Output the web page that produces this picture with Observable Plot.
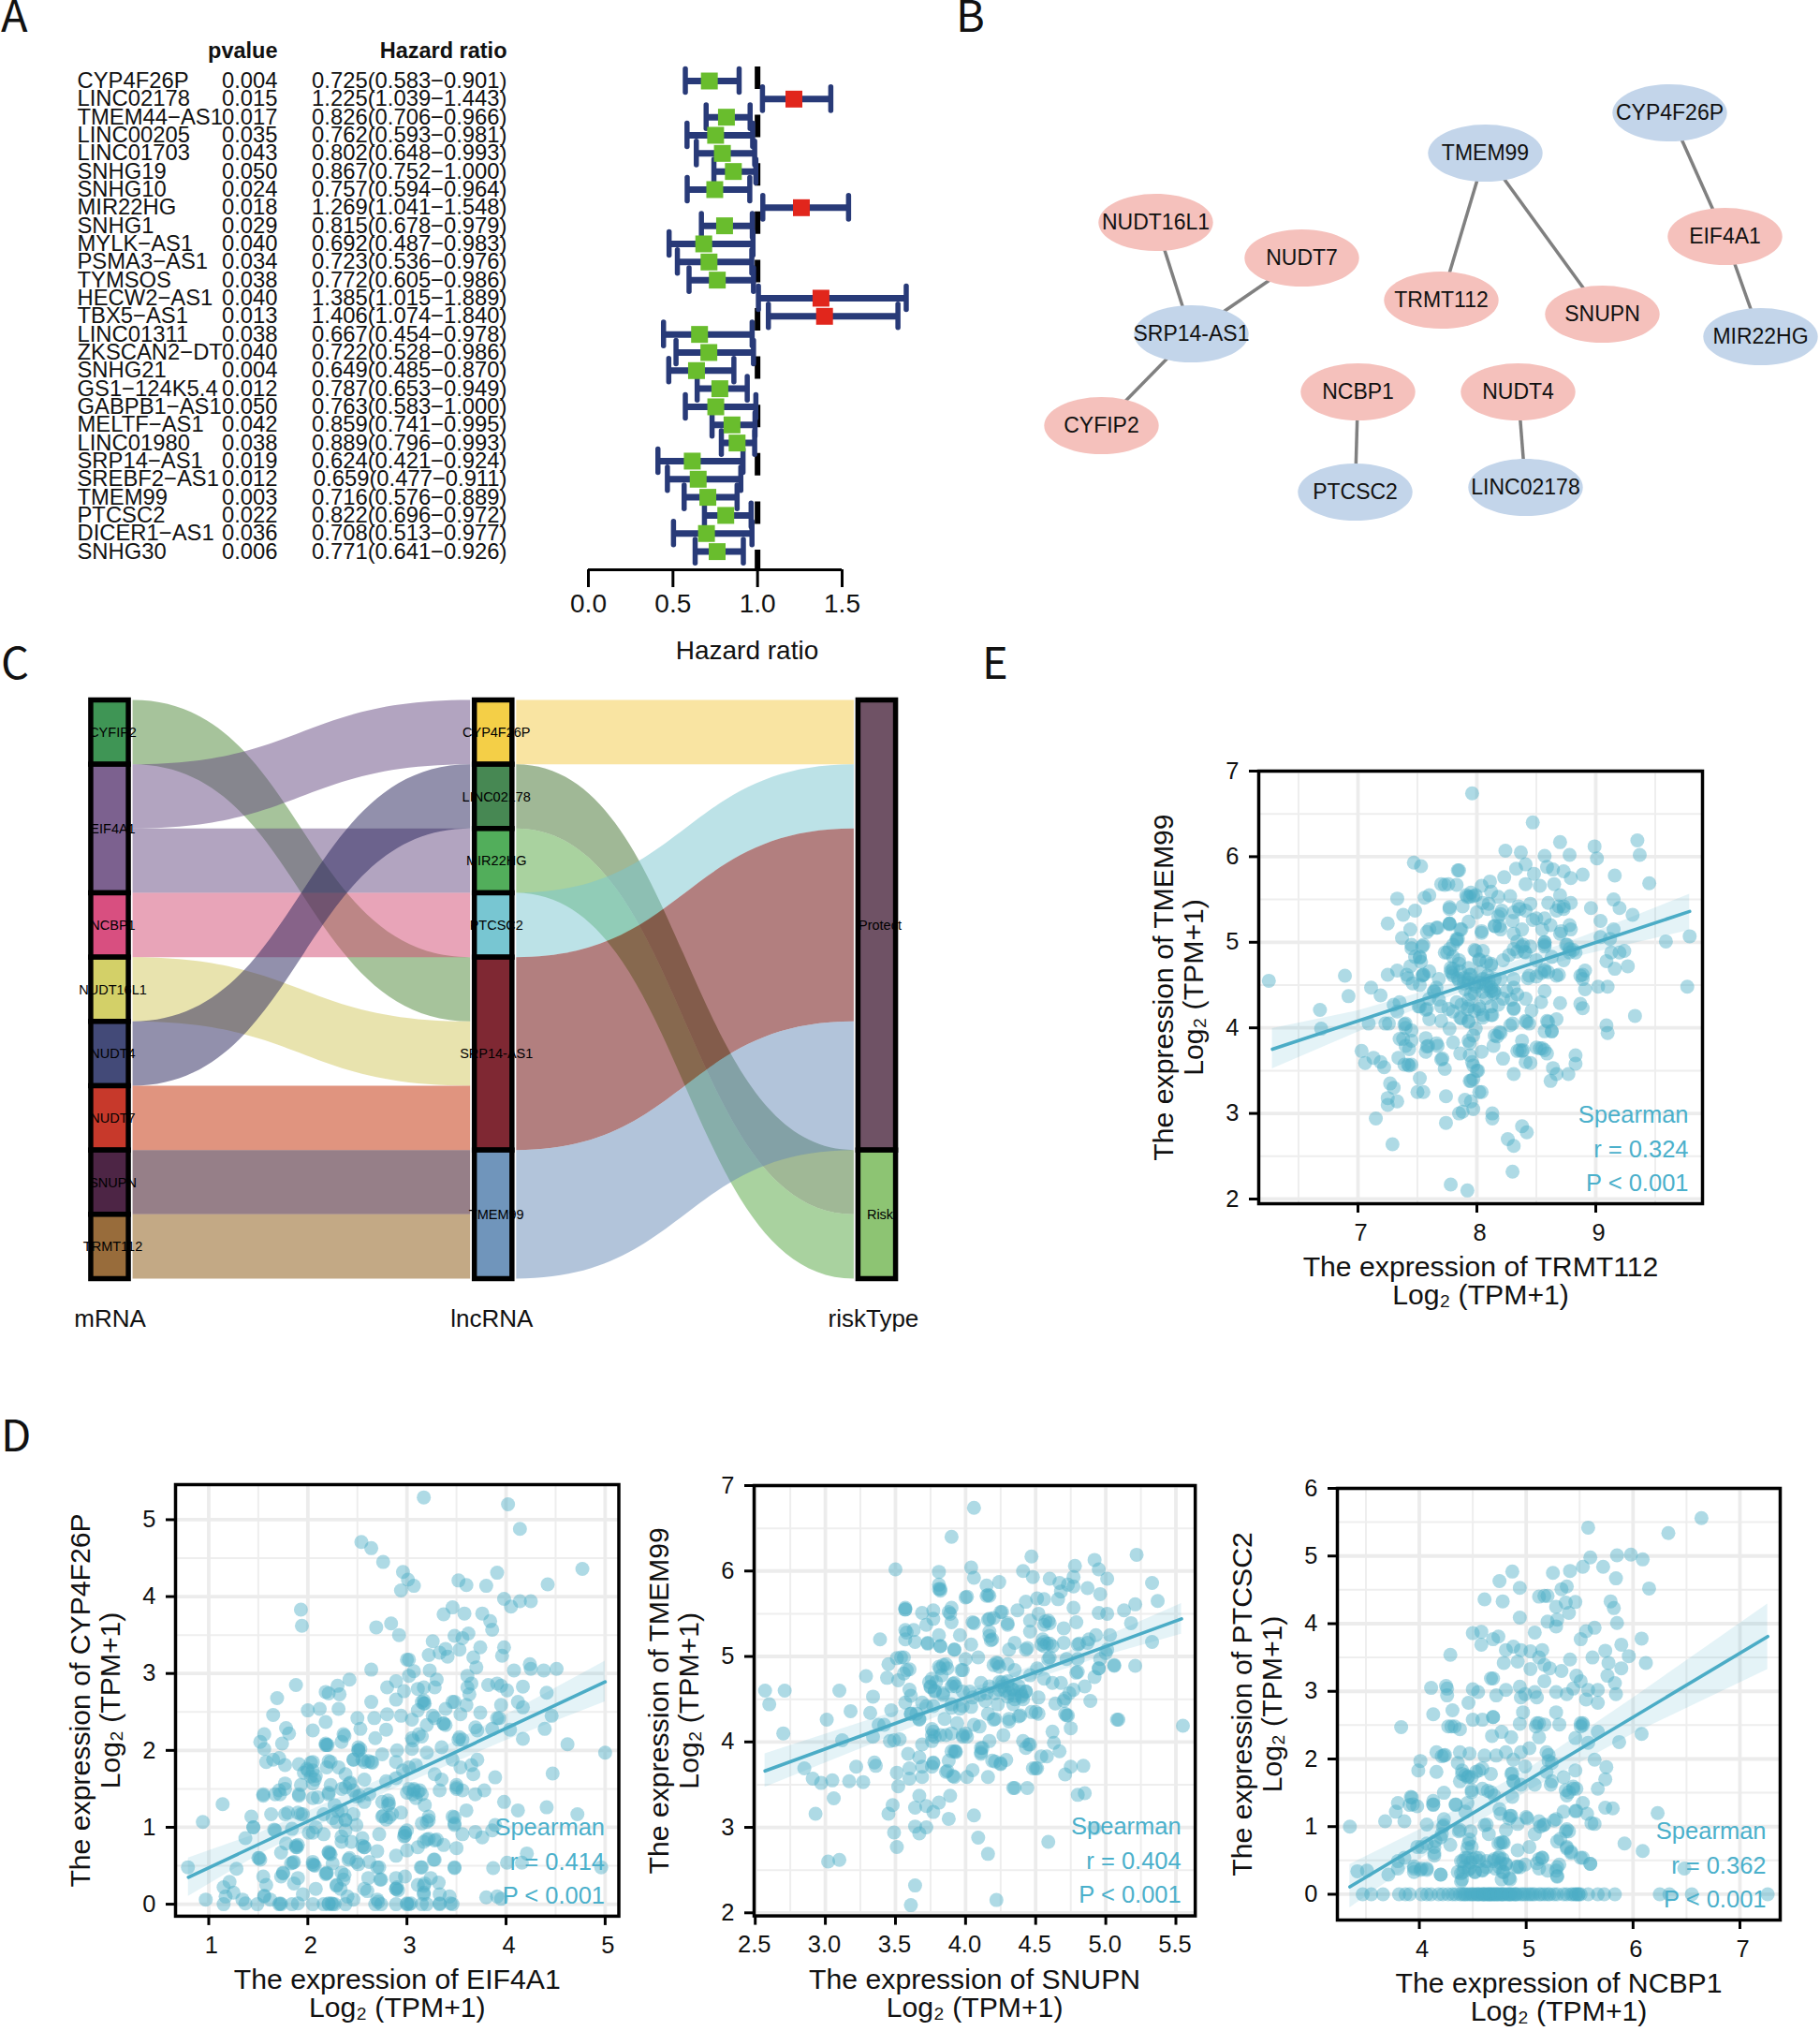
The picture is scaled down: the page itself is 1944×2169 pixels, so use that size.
<!doctype html>
<html><head><meta charset="utf-8">
<script src="https://cdn.jsdelivr.net/npm/d3@7"></script>
<script src="https://cdn.jsdelivr.net/npm/@observablehq/plot@0.6"></script>
<style>
html,body{margin:0;padding:0;background:#fff}
#fig{position:relative;width:1944px;height:2169px;overflow:hidden;background:#fff}
.letter{position:absolute;font-family:"Noto Sans CJK SC","Noto Sans",sans-serif;font-weight:400;font-size:47px;line-height:28px;color:#111}
</style></head><body><div id="fig"></div>
<script>
// ---------- Panel A ----------
const genes=["CYP4F26P","LINC02178","TMEM44-AS1","LINC00205","LINC01703","SNHG19","SNHG10","MIR22HG","SNHG1","MYLK-AS1","PSMA3-AS1","TYMSOS","HECW2-AS1","TBX5-AS1","LINC01311","ZKSCAN2-DT","SNHG21","GS1-124K5.4","GABPB1-AS1","MELTF-AS1","LINC01980","SRP14-AS1","SREBF2-AS1","TMEM99","PTCSC2","DICER1-AS1","SNHG30"];
const pvalues=[.004,.015,.017,.035,.043,.05,.024,.018,.029,.04,.034,.038,.04,.013,.038,.04,.004,.012,.05,.042,.038,.019,.012,.003,.022,.036,.006];
const hazard=[.725,1.225,.826,.762,.802,.867,.757,1.269,.815,.692,.723,.772,1.385,1.406,.667,.722,.649,.787,.763,.859,.889,.624,.659,.716,.822,.708,.771];
const ciLow=[.583,1.039,.706,.593,.648,.752,.594,1.041,.678,.487,.536,.605,1.015,1.074,.454,.528,.485,.653,.583,.741,.796,.421,.477,.576,.696,.513,.641];
const ciHigh=[.901,1.443,.966,.981,.993,1,.964,1.548,.979,.983,.976,.986,1.889,1.84,.978,.986,.87,.949,1,.995,.993,.924,.911,.889,.972,.977,.926];
const forestTicks=[0,.5,1,1.5];
// ---------- Panel B ----------
const nodeNames=["CYP4F26P","TMEM99","NUDT16L1","NUDT7","EIF4A1","TRMT112","SNUPN","MIR22HG","SRP14-AS1","NCBP1","NUDT4","CYFIP2","PTCSC2","LINC02178"];
const nodeKinds=["lnc","lnc","m","m","m","m","m","lnc","lnc","m","m","m","lnc","lnc"];
const nodeX=[783,586,234,390,842,539,711,880,272,450,621,176,447,629];
const nodeY=[120,163,237,275,252,320,335,359,356,418,418,454,525,520];
const edgeList=[["CYP4F26P","EIF4A1"],["TMEM99","TRMT112"],["TMEM99","SNUPN"],["NUDT16L1","SRP14-AS1"],["NUDT7","SRP14-AS1"],["SRP14-AS1","CYFIP2"],["EIF4A1","MIR22HG"],["NCBP1","PTCSC2"],["NUDT4","LINC02178"]];
// ---------- Panel C ----------
const axisNames=["mRNA","lncRNA","riskType"];
const strataNames=["CYFIP2","EIF4A1","NCBP1","NUDT16L1","NUDT4","NUDT7","SNUPN","TRMT112","CYP4F26P","LINC02178","MIR22HG","PTCSC2","SRP14-AS1","TMEM99","Protect","Risk"];
const strataAxis=[0,0,0,0,0,0,0,0,1,1,1,1,1,1,2,2];
const strataStart=[0,1,3,4,5,6,7,8,0,1,2,3,4,7,0,7];
const strataSize=[1,2,1,1,1,1,1,1,1,1,1,1,3,2,7,2];
const strataColors=["#3f9555","#7c618f","#d84f80","#d3d068","#434a78","#c7392b","#4d2545","#986c3b","#f4cf47","#478853","#52ae5b","#78c6d2","#7f2833","#7095bb","#6f5265","#8dc473"];
const flowAxis=[0,0,0,0,0,0,0,0,0,1,1,1,1,1,1];
const flowFrom=[0,1,2,3,4,5,6,7,8,0,1,2,3,4,7];
const flowTo=[4,0,2,3,5,1,6,7,8,0,7,8,1,2,5];
const flowSize=[1,1,1,1,1,1,1,1,1,1,1,1,1,3,2];
const flowColors=["#4d8737","#654981","#654981","#d14971","#d1c75d","#252159","#c12900","#2d0011","#87530b","#f3c945","#41712d","#53a53f","#79c5cf","#650000","#6589b5"];
// ---------- Panels D/E scatter values ----------
const ePoints=[[6.25,4.55],[6.68,4.21],[6.69,3.99],[6.89,4.61],[6.92,4.37],[7.03,3.73],[7.09,4.05],[7.11,4.47],[7.06,3.59],[7.13,3.65],[7.19,4.38],[7.19,3.6],[7.23,4.05],[7.26,4.05],[7.22,3.54],[7.25,5.22],[7.25,4.62],[7.15,2.94],[7.27,3.35],[7.3,3.3],[7.25,3.18],[7.25,3.1],[7.33,3.14],[7.29,2.64],[7.34,3.65],[7.3,4.27],[7.35,4.3],[7.33,4.19],[7.33,4.67],[7.33,5.51],[7.38,5.32],[7.43,3.75],[7.45,3.85],[7.38,3.87],[7.4,3.79],[7.4,4],[7.4,4.05],[7.45,3.97],[7.45,3.57],[7.42,3.57],[7.39,3.57],[7.41,4.62],[7.37,5.05],[7.44,5.15],[7.45,4.97],[7.45,4.93],[7.44,4.72],[7.46,4.52],[7.48,5.37],[7.5,3.25],[7.55,3.25],[7.52,3.41],[7.47,5.93],[7.53,5.89],[7.56,5.52],[7.6,5.55],[7.53,4.77],[7.52,4.82],[7.55,4.97],[7.52,4.5],[7.55,4.62],[7.52,4.25],[7.58,5.12],[7.66,5.17],[7.7,5.68],[7.76,5.68],[7.77,5.22],[7.85,5.84],[7.74,3.2],[7.74,2.89],[7.85,3],[7.88,3.02],[7.78,2.17],[7.92,2.1],[7.97,3.05],[7.9,3.16],[7.95,3.14],[7.96,6.74],[8.04,3.25],[7.95,3.38],[7.97,3.4],[8,3.5],[7.96,3.6],[8.13,3],[8.13,2.94],[8.26,2.7],[8.31,2.62],[8.3,2.32],[8.38,2.85],[8.42,2.78],[8.47,6.4],[8.24,6.07],[8.37,6.05],[8.33,5.86],[8.7,6.17],[8.78,6.02],[8.57,6.01],[8.99,6.12],[9.01,5.98],[9.35,6.19],[9.37,6.02],[9.45,5.69],[9.16,5.78],[8.89,5.79],[8.79,5.75],[8.73,5.83],[8.64,5.85],[8.59,5.88],[8.41,5.91],[8.48,5.8],[8.41,5.68],[8.65,5.68],[8.53,5.66],[8.23,5.76],[8.11,5.71],[8.04,5.66],[8.12,5.59],[8.18,5.53],[8.28,5.54],[7.97,5.54],[7.92,5.53],[7.95,5.58],[7.77,5.39],[7.84,5.84],[7.73,5.67],[7.83,5.67],[9.15,5.5],[9.2,5.4],[8.96,5.4],[9.31,5.32],[9.04,5.25],[9.15,5.15],[9.04,5.06],[9.12,5.04],[9.59,5.01],[9.79,5.07],[9.77,4.48],[9.33,4.14],[9.09,4.03],[9.1,3.94],[9.02,4.48],[9.1,4.48],[9.27,4.72],[9.16,4.69],[9.09,4.78],[9.13,4.88],[9.2,4.88],[9.24,4.9],[8.91,4.67],[8.87,4.61],[8.91,4.45],[8.87,4.28],[8.89,4.23],[8.7,4.29],[8.67,4.1],[8.59,4.08],[8.63,3.96],[8.57,3.96],[8.83,3.68],[8.83,3.58],[8.77,3.46],[8.67,3.46],[8.62,3.38],[8.64,3.53],[8.59,3.7],[8.55,3.76],[8.5,3.77],[8.45,3.59],[8.41,3.6],[8.38,3.85],[8.34,3.73],[8.39,3.74],[8.31,3.46],[8.22,3.64],[8.28,4.03],[8.2,3.94],[8.17,3.9],[8.14,3.79],[8.04,3.72],[7.94,3.68],[7.86,3.7],[7.8,3.83],[7.73,3.52],[7.7,3.63],[7.67,3.79],[7.57,3.72],[7.59,3.79],[7.57,3.88],[7.97,3.56],[8.01,3.5],[7.94,3.38],[8.02,3.25],[7.89,4.52],[7.93,4.57],[7.99,4.48],[8.05,4.52],[8.12,4.43],[8.09,4.61],[8.15,4.57],[7.86,4.66],[7.8,4.61],[7.78,4.7],[7.85,4.79],[7.93,4.7],[8.02,4.79],[8.12,4.75],[8.05,4.9],[7.99,4.9],[7.83,5.04],[7.77,4.92],[7.73,4.88],[7.8,4.83],[8.22,4.79],[8.31,4.92],[8.38,4.95],[8.41,4.88],[8.34,5.01],[8.5,4.79],[8.57,4.97],[8.57,5],[8.57,4.68],[8.44,4.61],[8.31,4.57],[8.25,4.43],[8.2,4.57],[8.34,4.39],[8.41,4.34],[8.31,4.23],[8.22,4.34],[8.12,4.25],[8.02,4.25],[7.93,4.25],[7.86,4.12],[7.8,4.19],[7.7,4.25],[7.6,4.34],[7.64,4.43],[7.68,4.57],[7.6,4.66],[7.54,4.61],[7.51,4.25],[7.57,4.21],[7.6,4.1],[7.7,4.08],[7.77,3.99],[7.93,4.08],[8.05,4.12],[7.99,3.99],[7.93,3.85],[8.41,4.08],[8.44,4.05],[8.54,4.3],[8.57,4.43],[8.67,4.61],[8.73,4.79],[8.78,4.92],[8.83,4.88],[8.63,4.83],[8.76,4.97],[8.7,5.1],[8.79,5.15],[8.67,5.37],[8.73,5.42],[8.79,5.46],[8.7,5.55],[8.6,5.46],[8.5,5.28],[8.41,5.37],[8.38,5.15],[8.31,5.1],[8.2,5.33],[8.15,5.19],[8.2,5.15],[8.04,5.13],[7.93,5.24],[7.86,5.15],[7.77,5.21],[7.67,5.17],[7.6,5.15],[7.54,4.95],[7.48,4.83],[7.52,4.83],[7.95,4.4],[8.05,4.42],[8.1,4.5],[8.15,4.42],[8.08,4.35],[7.9,4.45],[7.85,4.55],[7.95,4.62],[8.03,4.65],[7.83,4.3],[7.98,4.2],[8.12,4.15],[8.3,5.25],[8.35,5.42],[8.45,5.45],[8.55,5.15],[8.62,5.2],[8.1,5.45],[8,5.35],[8.27,4.85],[8.45,4.95],[8.5,4.6],[8.6,4.65]];
const eCore=[[7.94,5.53],[7.91,5.55],[7.99,5.55],[7.77,5.41],[7.88,5.42],[8.05,5.46],[8.09,5.39],[8.21,5.37],[8.18,5.3],[8.15,5.19],[8.19,5.19],[8.04,5.11],[7.83,5.02],[7.77,5.22],[7.87,5.15],[8.36,5.39],[8.31,5.35],[8.47,5.26],[8.57,5.28],[8.69,5.42],[8.73,5.39],[8.78,5.2],[8.71,5.13],[8.57,5],[8.57,4.95],[8.39,4.97],[8.4,4.89],[8.34,4.89],[8.75,4.97],[8.78,4.88],[8.81,4.91],[7.98,4.91],[7.84,5.04],[7.8,4.97],[7.75,4.88],[8.08,4.77],[8.12,4.73],[8.02,4.8],[7.85,4.75],[7.8,4.69],[7.79,4.64],[7.84,4.58],[7.89,4.58],[7.93,4.53],[7.98,4.51],[8.02,4.53],[8.08,4.49],[8.12,4.47],[8.14,4.44],[8.1,4.55],[8.05,4.57],[7.94,4.62],[8.14,4.4],[7.98,4.4],[7.93,4.33],[7.87,4.27],[7.92,4.22],[7.87,4.11],[7.93,4.07],[8.02,4.22],[8.05,4.15],[8.13,4.15],[7.97,3.91],[7.94,3.82],[8.19,3.95],[8.15,3.91],[8.3,4.05],[8.42,4.07],[8.6,4.07],[8.63,3.96],[8.57,4.66],[8.54,4.64],[8.69,4.62],[8.89,4.62],[8.89,4.57],[7.66,4.47],[7.64,4.42],[7.58,4.22],[7.39,4.04],[7.35,3.87],[7.66,3.82],[7.58,3.78],[7.71,3.64],[7.43,3.56],[8.36,3.74],[8.38,3.73],[8.53,3.76],[8.57,3.74],[8.31,4.47],[8.43,4.58],[8.46,4.2],[8.31,4.22],[8.29,4.33],[8.18,4.27],[7.76,4.22],[7.68,4.33],[7.55,4.62],[7.42,4.58],[7.78,4.66]];
const d1Points=[[3.17,5.29],[4.02,5.2],[4.14,4.88],[2.54,4.71],[2.64,4.63],[2.76,4.45],[4.77,4.36],[3.91,4.31],[2.96,4.32],[3.01,4.22],[3.07,4.14],[2.94,4.08],[3.52,4.21],[3.6,4.15],[3.8,4.14],[4.42,4.16],[3.98,3.97],[4.05,3.87],[4.14,3.94],[4.25,3.94],[3.46,3.86],[3.37,3.77],[3.58,3.78],[3.76,3.78],[3.84,3.68],[3.86,3.57],[1.93,3.83],[1.94,3.62],[2.69,3.6],[2.84,3.65],[2.92,3.5],[3.48,3.49],[3.56,3.46],[3.62,3.52],[3.26,3.42],[3.74,3.34],[3.98,3.34],[3.22,3.24],[3.33,3.27],[3.39,3.32],[3.41,3.22],[3.53,3.31],[3.67,3.21],[3.96,3.23],[3,3.18],[3.02,3.18],[3.7,3.08],[4.08,3.04],[4.24,3.12],[4.25,3.06],[4.38,3.04],[4.51,3.06],[2.64,3.05],[3.07,3.03],[3.23,3.04],[3.02,2.97],[3.61,2.97],[2.42,2.92],[1.88,2.85],[2.3,2.84],[2.18,2.76],[2.21,2.74],[2.32,2.73],[1.69,2.68],[2.31,2.54],[2,2.52],[2.12,2.54],[1.65,2.46],[2.18,2.37],[2.5,2.42],[2.53,2.28],[2.67,2.42],[2.8,2.47],[2.8,2.82],[2.89,2.9],[2.97,2.77],[2.89,2.66],[2.64,2.63],[2.94,2.45],[3.05,2.4],[3.11,2.8],[3.17,2.82],[3.28,2.82],[3.3,2.92],[3.15,2.63],[3.18,2.61],[3.11,2.52],[3.26,2.45],[3.28,2.42],[3.2,2.33],[3.37,2.35],[3.39,2.33],[3.39,2.54],[3.46,2.63],[3.48,2.63],[3.54,2.47],[3.6,2.59],[3.61,2.82],[3.63,2.73],[3.65,2.87],[3.74,2.49],[3.69,2.3],[3.71,2.26],[3.82,2.85],[3.91,2.87],[3.95,2.84],[4.01,2.78],[3.95,2.59],[4.12,2.63],[4.17,2.83],[4.17,2.56],[4.41,2.75],[4.46,2.45],[4.39,2.28],[4.04,2.27],[3.91,2.42],[3.93,2.42],[3.86,2.28],[4.17,2.15],[4.62,2.08],[5,1.97],[4.47,1.7],[3.89,1.65],[3.78,1.48],[3.69,1.43],[3.98,1.33],[4.12,1.22],[4.41,1.26],[4.72,1.17],[3.89,1.03],[3.86,.96],[3.76,.87],[3.69,.94],[3.56,.91],[4.21,.66],[4.01,.54],[4.16,.54],[4.96,.48],[3.87,.47],[3.8,.09],[3.91,.1],[3.95,.07],[3.48,.47],[3.5,.73],[3.37,.77],[3.27,.58],[3.3,.84],[3.2,.84],[3.17,.81],[2.98,.93],[2.97,.88],[3,.96],[3.11,.74],[3.15,.48],[2.89,.63],[3,.7],[2.7,.69],[2.72,.48],[2.62,.55],[2.57,.74],[2.55,.86],[2.49,1.03],[2.72,.91],[2.44,.81],[2.34,.81],[2.34,.88],[2.23,.65],[2.21,.67],[2.38,.96],[2.16,.91],[2.05,.93],[2.01,.93],[1.9,.77],[1.88,.74],[1.78,.79],[1.67,.96],[1.83,.53],[1.86,.55],[1.73,.67],[1.52,.58],[1.5,.6],[1.37,.86],[1.45,1],[1.43,1.14],[1.63,1.17],[1.8,1.19],[.94,1.07],[1.14,1.3],[.79,.48],[1.28,.46],[.97,.06],[1.15,.22],[1.21,.29],[1.17,.1],[1.25,.15],[1.15,0],[1.37,.01],[1.34,.06],[1.49,0],[1.56,.1],[1.58,.25],[1.55,.36],[1.62,.06],[1.71,0],[1.73,0],[1.84,0],[1.9,.01],[1.73,.36],[1.75,.41],[1.9,.34],[1.86,.27],[1.95,.13],[2.05,0],[2.16,0],[2.21,0],[2.25,0],[2.27,0],[2.38,0],[2.05,.55],[2.06,.51],[2.08,.2],[2.19,.41],[2.18,.39],[2.25,.53],[2.34,.41],[2.36,.32],[2.29,.25],[2.33,.2],[2.4,.1],[2.46,.06],[2.42,.6],[2.49,.55],[2.61,.34],[2.74,.32],[2.57,.2],[2.7,.06],[2.74,0],[2.68,0],[2.89,.34],[2.98,.36],[2.89,.2],[2.91,.18],[2.89,0],[3,0],[3.02,0],[3.15,0],[3.2,0],[3.33,0],[3.46,0],[3.11,.25],[3.18,.27],[3.17,.13],[3.32,.28],[3.24,.34],[3.33,.13],[3.43,.1],[1.52,2.11],[1.56,2.21],[1.56,2.02],[1.58,1.85],[1.65,1.88],[1.71,1.9],[1.74,2.09],[1.78,2.29],[1.81,2.22],[1.77,1.81],[1.91,1.82],[1.96,1.71],[2.05,1.85],[2.05,1.74],[2.08,1.67],[2.05,1.57],[1.93,1.55],[1.77,1.57],[1.71,1.48],[1.67,1.43],[1.55,1.43],[1.91,1.43],[2.05,1.38],[2.21,1.45],[2.23,1.55],[2.19,1.78],[2.23,1.85],[2.31,1.78],[2.38,1.69],[2.42,1.57],[2.34,1.5],[2.46,1.48],[2.51,2],[2.53,2.02],[2.46,1.88],[2.57,1.85],[2.64,1.85],[2.75,1.95],[2.57,1.62],[2.89,1.85],[2.9,2],[3.02,1.78],[3.09,1.81],[3.2,1.97],[3.35,2.04],[3.46,1.88],[3.52,2.14],[3.56,2.14],[3.05,2.16],[3.15,2.18],[3.05,2.02],[2.18,2.07],[2.2,2.07],[2.36,2.21],[2.34,2.11],[2.68,2.16],[2.79,2.27],[2.05,2.26],[2.79,1.6],[2.89,1.64],[2.96,1.74],[3.02,1.5],[3.07,1.48],[3.13,1.48],[3,1.45],[3.09,1.38],[3.18,1.29],[3.22,1.14],[3.15,1.05],[3.2,1.07],[3.35,1.62],[3.33,1.48],[3.28,1.69],[3.5,1.55],[3.56,1.48],[3.54,1.78],[3.67,1.69],[3.65,1.81],[3.71,1.88],[3.46,1.14],[3.48,1.03],[3.6,1.22],[2.75,1.33],[2.81,1.29],[2.94,1.19],[2.75,1.14],[2.79,1.1],[2.85,1.17],[2.57,1.33],[2.49,1.4],[2.34,1.22],[2.38,1.1],[2.27,1.29],[2.25,1.12],[2.16,1.17],[2.08,1],[1.93,1.17],[1.84,.98],[1.9,1.19]];
const d1Core=[[2.51,2.04],[2.51,2],[2.18,2.09],[2.19,2.07],[2.03,1.66],[2.07,1.62],[2,1.74],[2.38,1.52],[2.43,1.58],[2.52,1.41],[2.62,1.43],[3.07,1.5],[3.11,1.46],[3.15,1.43],[3.06,1.43],[2.81,1.35],[2.82,1.31],[2.98,.93],[2.98,.89],[3.22,.85],[3.28,.83],[2.55,.76],[2.57,.74],[1.88,.76],[1.89,.74],[1.51,.6],[2.05,.52],[2.07,.5],[2.21,.68],[2.22,.66],[2.19,.4],[1.85,.54],[1.75,.4],[1.56,.11],[1.72,.01],[2.24,.01],[2.21,.01],[2.29,.24],[2.37,.38],[2.6,.17],[2.71,.03],[2.89,.2],[2.9,.22],[3.17,.24],[3.17,.15],[3,.01],[3.04,.01],[3.33,.01],[3.44,.01],[3.48,.48],[3.14,.48],[3.28,.58],[2.7,.48],[2.73,.32],[2.51,.52],[2.41,.58],[1.95,1.17],[1.77,1.17],[1.45,1],[1.66,.97],[1.72,1.43],[1.77,1.5],[1.55,1.41],[1.91,1.41],[2.1,1.39],[2.21,1.43],[2.38,1.09],[2.29,1.07],[2.3,1.21],[2.46,1.17],[2.76,1.15],[2.82,1.13],[3.5,1.5],[3.5,1.52],[3.48,1.13],[3.48,1.05],[3.22,1.09],[2.55,1.88],[2.61,1.86],[2.65,1.84],[2.46,1.88],[2.21,1.86],[2.03,1.84],[1.99,1.76],[2.37,2.19],[3.12,2.21],[3.06,2.13],[3.53,2.17],[3.37,2.35],[3.17,2.65],[3.17,2.61]];
const d2Points=[[4.06,6.74],[3.9,6.4],[3.5,6.02],[3.81,5.99],[4.04,6.04],[4.06,5.92],[4.47,6.17],[4.41,6],[4.48,5.93],[4.78,6.06],[4.92,6.13],[4.95,6.02],[5.01,5.91],[5.22,6.19],[5.33,5.86],[5.37,5.65],[5.21,5.61],[5.13,5.54],[5.18,5.39],[5.33,5.17],[5.21,4.89],[5.06,4.89],[5.01,5.08],[5.03,5.25],[5.01,5.5],[4.95,5.51],[4.96,5.73],[4.87,5.8],[4.77,5.82],[4.77,5.93],[4.73,5.84],[4.67,5.86],[4.6,5.91],[4.68,5.76],[4.66,5.67],[4.56,5.67],[4.51,5.68],[4.43,5.64],[4.37,5.54],[4.15,5.83],[4.24,5.87],[4.15,5.71],[4.17,5.71],[4,5.69],[3.81,5.84],[3.81,5.79],[3.82,5.77],[3.57,5.57],[3.57,5.55],[3.69,5.51],[3.77,5.54],[3.9,5.57],[3.89,5.5],[3.9,5.4],[3.72,5.37],[3.77,5.44],[3.57,5.31],[3.63,5.31],[3.57,5.2],[3.64,5.17],[3.73,5.15],[3.81,5.25],[3.82,5.12],[3.39,5.2],[3.45,4.91],[3.51,4.98],[3.56,4.99],[3.6,4.85],[3.56,4.8],[3.52,4.72],[3.44,4.75],[3.29,4.77],[3.6,4.61],[3.61,4.54],[3.57,4.46],[3.34,4.53],[3.1,4.6],[2.57,4.6],[2.6,4.44],[2.71,4.6],[2.7,4.1],[3.01,4.26],[3.18,4.36],[3.32,4.34],[3.47,4.37],[3.38,4.2],[3.42,4.2],[3.46,4.01],[3.49,4.02],[3.53,4.03],[3.34,4.06],[3.12,4.02],[2.85,3.69],[2.91,3.57],[2.97,3.52],[3.05,3.55],[3.17,3.54],[3.27,3.53],[3.22,3.71],[3.35,3.76],[3.36,3.72],[3.06,3.34],[2.93,3.16],[3.02,2.6],[3.1,2.62],[3.48,3.26],[3.45,3.16],[3.49,2.94],[3.51,2.77],[3.51,3.64],[3.52,3.48],[3.6,3.57],[3.6,3.69],[3.59,3.86],[3.69,3.97],[3.67,3.82],[3.69,3.71],[3.69,3.59],[3.67,3.37],[3.64,3.23],[3.72,3.25],[3.77,3.18],[3.81,3.29],[3.89,3.37],[3.88,3.1],[3.64,3.01],[3.67,2.93],[3.72,3],[4.06,3.14],[4.09,2.88],[4.16,2.69],[3.64,2.32],[3.61,2.09],[4.22,2.15],[4.59,2.83],[4.92,2.99],[4.8,3.38],[4.85,3.4],[4.84,3.72],[4.75,3.71],[4.71,3.62],[4.67,3.89],[4.58,3.83],[4.54,3.83],[4.51,3.69],[4.48,3.69],[4.44,3.46],[4.34,3.46],[4.35,3.46],[4.16,3.59],[4.29,3.79],[4.25,3.74],[4.19,3.78],[4.11,3.86],[4.01,3.59],[4.05,3.67],[3.92,3.59],[3.86,3.65],[3.93,3.89],[3.88,3.78],[3.77,3.76],[5.08,4.26],[5.09,4.26],[4.89,4.48],[5.55,4.19],[4.75,4.16],[4.72,4.31],[4.7,4.48],[4.64,4.45],[4.62,4.12],[4.63,3.99],[4.46,3.97],[4.41,4.01],[4.43,3.93],[4.85,4.65],[4.92,4.76],[4.95,4.86],[4.96,4.97],[4.88,5.2],[4.93,5.25],[4.87,5.16],[4.8,5.14],[4.77,5.57],[4.79,5.4],[4.7,5.16],[4.7,5.33],[4.59,5.42],[4.56,5.37],[4.52,5.5],[4.46,5.42],[4.46,5.29],[4.43,5.08],[4.35,5.16],[4.31,5.08],[4.62,5.12],[4.56,5.12],[4.59,4.97],[4.51,4.86],[4.46,4.78],[4.35,4.84],[4.3,4.91],[4.22,4.93],[4.3,4.71],[4.38,4.65],[4.43,4.59],[4.35,4.54],[4.31,4.57],[4.26,4.65],[4.21,4.57],[4.17,4.65],[4.11,4.69],[4.05,4.52],[3.98,4.42],[3.9,4.4],[3.93,4.65],[3.92,4.69],[3.84,4.57],[3.75,4.65],[3.76,4.74],[3.82,4.86],[3.86,4.91],[3.98,4.84],[4.09,4.99],[4,4.97],[3.92,5.08],[4.04,5.14],[4.17,5.29],[4.19,5.2],[4.17,5.44],[4.26,5.52],[4.05,5.4],[3.96,5.25],[4.3,5.37],[4.41,4.5],[4.34,4.44],[4.23,4.44],[4.14,4.48],[4.21,4.27],[4.31,4.27],[4.39,4.31],[4.5,4.35],[4.52,4.52],[4.62,4.69],[4.56,4.74],[4.68,4.69],[4.77,4.61],[4.8,4.82],[4.72,4.97],[4.27,4.08],[4.17,4.01],[4.11,3.93],[4,4.1],[3.98,4.06],[3.9,4.1],[3.82,4.08],[3.77,4.12],[3.76,4.01],[3.85,4.27],[3.94,4.22],[4.06,4.2],[4.1,4.18],[3.67,4.27],[3.61,4.33],[3.69,4.46],[3.77,4.42],[3.9,3.89],[4.28,4.6],[4.33,4.62],[4.24,4.7],[4.4,4.55],[3.78,4.6],[3.9,4.65],[4.58,5.15],[4.55,5.2],[3.83,4.78],[3.79,4.7]];
const d2Core=[[4.23,4.92],[4.24,4.88],[4.2,4.9],[4.26,4.7],[4.3,4.66],[4.34,4.61],[4.39,4.59],[4.43,4.59],[4.4,4.53],[4.35,4.5],[4.3,4.53],[4.24,4.61],[4.15,4.57],[4.1,4.55],[4.03,4.59],[3.98,4.59],[3.91,4.68],[3.75,4.64],[3.74,4.7],[3.84,4.9],[3.81,4.88],[3.87,4.86],[3.97,4.84],[3.84,4.55],[3.78,4.59],[4.04,4.41],[3.96,4.39],[3.9,4.44],[3.72,4.42],[3.65,4.33],[3.61,4.33],[3.67,4.26],[3.76,4.15],[3.76,4.08],[3.78,4.06],[3.86,4.08],[3.98,4.08],[4.01,4.06],[3.92,3.89],[3.93,3.88],[3.77,3.75],[3.76,3.71],[3.87,3.66],[3.91,3.6],[4.11,3.88],[4.12,3.93],[4.21,3.77],[4.25,3.75],[4.45,3.97],[4.5,3.69],[4.2,4.26],[4.16,4.33],[4.31,4.24],[4.38,4.3],[4.47,4.35],[4.52,4.33],[4.71,4.51],[4.74,4.57],[4.71,4.33],[4.73,4.31],[4.57,5.41],[4.6,5.39],[4.56,5.17],[4.6,5.15],[4.54,5.14],[4.6,4.99],[4.44,5.1],[4.16,5.43],[4.2,5.45],[4.25,5.52],[4.3,5.39],[4.17,5.24],[4.18,5.19],[3.92,5.08],[3.82,5.12],[4.8,4.97],[4.81,5.15],[5,5.04],[5.06,4.9],[4.95,4.86],[4.79,4.81],[3.57,5.55],[3.88,5.52],[4.06,5.39],[4.01,5.7],[4.16,5.72],[3.82,5.79],[3.73,5.16],[3.58,5.28],[3.54,4.99],[3.58,4.84]];
const d3Points=[[6.64,5.56],[6.33,5.34],[5.58,5.42],[5.98,5.02],[5.85,5.01],[6.09,4.95],[5.6,4.98],[5.53,4.84],[5.72,4.84],[5.25,4.75],[5.41,4.78],[5.84,4.67],[4.87,4.77],[4.75,4.63],[4.94,4.53],[6.15,4.52],[5.38,4.55],[5.33,4.51],[5.12,4.4],[5.17,4.41],[5.2,4.41],[4.61,4.36],[4.78,4.33],[5.28,4.25],[5.46,4.32],[5.37,4.31],[5.79,4.33],[5.82,4.23],[5.4,4.16],[4.94,4.09],[5.29,4.06],[5.2,4.03],[5.28,3.96],[5.85,4.01],[5.64,3.94],[5.56,3.89],[5.51,3.77],[5.08,3.87],[4.5,3.86],[4.58,3.88],[4.58,3.69],[4.69,3.77],[4.74,3.81],[6.08,3.78],[5.89,3.69],[5.74,3.6],[5.96,3.52],[5.77,3.42],[5.89,3.34],[6.12,3.42],[5.62,3.5],[5.41,3.47],[4.29,3.54],[4.81,3.61],[4.88,3.66],[4.95,3.61],[5.04,3.59],[5.15,3.61],[5.12,3.5],[4.79,3.42],[4.92,3.44],[5.04,3.33],[5.17,3.39],[5.22,3.34],[5.33,3.3],[5.76,3.23],[5.83,3.12],[5.47,3.23],[5.51,3.15],[4.11,3.05],[4.25,3.08],[4.26,3.04],[4.26,2.94],[4.31,2.72],[4.13,2.66],[4.46,2.83],[4.5,3.03],[4.55,2.99],[4.67,3.19],[4.69,3.19],[4.72,2.94],[4.81,3.02],[4.94,3.07],[4.99,2.96],[4.95,2.91],[5.08,2.99],[5.1,2.91],[5.17,3.15],[5.28,2.99],[5.38,2.96],[5.44,3.04],[5.58,3.02],[5.67,3.02],[5.56,2.88],[5.67,2.83],[5.84,2.96],[3.83,2.47],[4.27,2.48],[4.33,2.48],[4.38,2.44],[4.5,2.58],[4.59,2.58],[4.69,2.62],[4.77,2.4],[4.68,2.34],[4.86,2.32],[4.94,2.52],[4.97,2.69],[5.1,2.53],[5.17,2.51],[5.28,2.69],[5.31,2.51],[5.51,2.53],[5.51,2.48],[5.46,2.31],[5.58,2.24],[5.67,2.4],[5.87,2.25],[6.08,2.37],[5.64,1.99],[5.75,1.88],[5.74,1.7],[5.67,1.56],[5.74,1.28],[5.81,1.27],[6.23,1.2],[5.64,1.04],[5.92,.75],[6.09,.64],[6.48,.38],[5.6,.45],[5.51,.54],[5.42,.61],[5.38,.7],[5.29,.78],[5.37,.93],[5.28,1.11],[5.35,1.22],[5.46,1.23],[5.53,1.35],[5.57,1.19],[5.17,1.03],[5.12,1.08],[5.08,.89],[5.01,1.12],[4.92,1.04],[4.81,.95],[4.85,1.16],[4.76,1.19],[4.63,1.03],[4.65,.89],[4.76,.76],[4.79,.76],[4.92,.65],[5.03,.7],[4.99,.44],[5.1,.46],[5.15,.54],[5.2,.35],[5.31,.44],[5.28,.35],[5.29,.27],[5.12,.38],[4.38,.95],[4.23,1.11],[4.22,1],[4.2,.84],[4.07,1.03],[4.34,1.32],[4.23,1.5],[4.13,1.38],[4.13,1.32],[4.45,1.35],[4.43,1.22],[3.93,1.43],[3.91,1.32],[3.98,1.3],[3.8,1.35],[3.78,1.22],[3.86,1.08],[3.68,1.08],[3.35,1],[4.01,1.97],[3.99,1.83],[4.16,1.81],[4.16,2.1],[4.23,2.05],[4.36,1.94],[4.4,1.78],[4.45,1.73],[4.49,1.73],[4.56,1.83],[4.59,1.86],[4.47,2.08],[4.38,2.1],[4.61,2.05],[4.72,2.05],[4.81,2.1],[4.88,1.99],[4.86,1.78],[4.88,1.67],[4.95,1.62],[4.99,1.89],[4.95,2.1],[5.03,2.16],[5.12,2.32],[5.19,2.1],[5.24,1.94],[5.19,1.81],[5.24,1.67],[5.08,1.62],[5.35,1.73],[5.37,1.54],[5.44,1.59],[5.47,1.56],[5.38,1.46],[5.46,1.83],[4.67,1.78],[4.59,1.56],[4.7,1.46],[4.49,1.54],[4.38,1.67],[4.41,.49],[4.45,.54],[4.5,.52],[4.56,.54],[4.41,.33],[4.47,.38],[4.52,.33],[4.59,.35],[4.4,.22],[4.63,.49],[4.7,.52],[4.76,.46],[4.81,.44],[4.74,.54],[4.79,.33],[4.85,.22],[4.77,.22],[4.92,.41],[4.49,.7],[4.47,.81],[4.36,.33],[4.02,.38],[3.95,.41],[4.07,.38],[4.2,.29],[4.14,.57],[4.14,.7],[4.29,.73],[4.02,.7],[3.86,.54],[3.8,.49],[3.71,.29],[3.8,.38],[3.42,.34],[3.51,.35],[3.95,.33]];
const d3Core=[[4.39,.49],[4.43,.54],[4.48,.47],[4.53,.54],[4.56,.49],[4.42,.4],[4.46,.36],[4.52,.33],[4.59,.36],[4.63,.4],[4.39,.31],[4.69,.49],[4.75,.56],[4.78,.52],[4.81,.45],[4.75,.4],[4.71,.38],[4.78,.33],[4.84,.24],[4.91,.4],[4.94,.4],[4.39,.19],[4.45,.68],[4.46,.75],[4.78,.77],[4.74,.75],[4.61,1.02],[4.37,.93],[4.48,.93],[4.23,1.02],[4.21,.89],[4.15,.79],[4.07,.75],[3.98,.7],[4.14,.61],[3.95,.38],[4.01,.36],[4.07,.36],[4.2,.29],[5.13,1],[5.16,1.02],[5.32,.82],[5.38,.96],[5.4,.93],[5.26,1.09],[5.61,1.05],[4.86,1.16],[4.84,1.12],[4.75,1.26],[5,1.14],[5.12,.52],[5.15,.54],[5.29,.4],[5.38,.68],[5.42,.63],[5.53,.54],[5.6,.45],[5.29,.26],[4.4,1.83],[4.43,1.76],[4.46,1.74],[4.53,1.81],[4.21,2.04],[4.24,2.06],[4.87,1.79],[4.88,1.67],[4.87,1.44],[4.67,1.51],[4.64,1.53],[4.49,1.51],[4.34,1.33],[3.94,1.33],[3.92,1.44],[4.13,1.33],[5.09,2.48],[5.12,2.53],[5.21,2.06],[5.21,1.97],[5.23,1.62],[5.4,1.51],[5.44,1.56],[5.47,1.23],[5.53,2.5],[5.53,2.53],[4.69,2.62],[4.3,2.48]];
const d3ZeroRow=[3.47,3.55,3.66,3.81,3.87,3.91,4.02,4.07,4.11,4.18,4.22,4.27,4.31,4.34,4.38,4.43,4.47,4.5,4.54,4.58,4.61,4.65,4.68,4.72,4.76,4.79,4.83,4.86,4.9,4.95,4.99,5.04,5.08,5.17,5.2,5.26,5.29,5.35,5.38,5.46,5.49,5.51,5.58,5.67,5.73,5.83,6.25,6.34,6.55,7.26,4.4,4.45,4.52,4.56,4.6,4.63,4.67,4.7,4.74,4.78,4.81,4.85,4.88,4.92,4.97,5.02,5.06,4.42,4.49,4.55,4.64,4.7,4.77,4.84,4.9,4.6,4.66,4.73,5.42,5.44,5.47,5.49,5.22,5.12,5.14];
const eBand=[[6.28,3.52,3.99,3.75],[7,3.95,4.2,4.08],[7.9,4.43,4.56,4.5],[8.9,4.85,5.07,4.95],[9.79,5.14,5.56,5.36]];
const d1Band=[[.795,.1,.6,.35],[1.5,.64,.92,.78],[2.8,1.46,1.66,1.56],[4,2.13,2.46,2.29],[5,2.63,3.16,2.89]];
const d2Band=[[2.57,3.47,3.86,3.66],[3.3,3.95,4.25,4.1],[4.2,4.57,4.71,4.64],[5,5.01,5.23,5.12],[5.54,5.26,5.62,5.44]];
const d3Band=[[3.35,-.2,.44,.11],[4,.51,.95,.73],[5,1.51,1.83,1.67],[6,2.37,2.9,2.62],[7.26,3.32,4.29,3.81]];

// ---------- Drawing ----------
const fig=document.getElementById("fig");
const FONT='"Liberation Sans",Arial,sans-serif';
const place=(left,top)=>({background:"none",fontFamily:FONT,position:"absolute",left:left+"px",top:top+"px",overflow:"visible",maxWidth:"none"});

[["A",1,0],["B",1021,0],["C",1,691],["D",1,1516],["E",1049,691]].forEach(([t,l,tp])=>{
  const d=document.createElement("div");d.className="letter";d.textContent=t;d.style.left=l+"px";d.style.top=tp+"px";fig.appendChild(d);
});

// Panel A forest plot
const rows=genes.map((g,i)=>({i,g:g.replace("-","\u2212"),p:pvalues[i].toFixed(3),hr:hazard[i],lo:ciLow[i],hi:ciHigh[i],
  label:`${hazard[i].toFixed(3)}(${ciLow[i].toFixed(3)}\u2212${ciHigh[i].toFixed(3)})`}));
const capReach=0.65,shift=-1.8,tableFont=23.8;
fig.appendChild(Plot.plot({
  width:1000,height:720,marginLeft:0,marginRight:0,marginTop:0,marginBottom:112,
  style:place(0,0),
  x:{domain:[0,1.5],range:[628,899]},
  y:{domain:[0,26],range:[86,588.6],axis:null},
  marks:[
    Plot.ruleX([1],{y1:-0.776,y2:27,stroke:"#000",strokeWidth:6,strokeDasharray:"24,27.6"}),
    Plot.ruleY(rows,{y:"i",x1:"lo",x2:"hi",dx:shift,stroke:"#283a78",strokeWidth:7}),
    Plot.ruleX(rows,{x:"lo",dx:shift,y1:d=>d.i-capReach,y2:d=>d.i+capReach,stroke:"#283a78",strokeWidth:5.5,strokeLinecap:"round"}),
    Plot.ruleX(rows,{x:"hi",dx:shift,y1:d=>d.i-capReach,y2:d=>d.i+capReach,stroke:"#283a78",strokeWidth:5.5,strokeLinecap:"round"}),
    Plot.dot(rows,{x:"hr",y:"i",dx:shift,symbol:"square",r:10.15,fill:d=>d.hr>1?"#e1261c":"#69bd2d"}),
    Plot.text(rows,{x:()=>0,y:"i",dx:-546,text:"g",textAnchor:"start",fontSize:tableFont,fill:"#111"}),
    Plot.text(rows,{x:()=>0,y:"i",dx:-332,text:"p",textAnchor:"end",fontSize:tableFont,fill:"#111"}),
    Plot.text(rows,{x:()=>0,y:"i",dx:-87,text:"label",textAnchor:"end",fontSize:tableFont,fill:"#111"}),
    Plot.text(["pvalue"],{x:()=>0,y:()=>0,dx:-332,dy:-32,text:d=>d,textAnchor:"end",fontSize:23.5,fontWeight:"bold",fill:"#111"}),
    Plot.text(["Hazard ratio"],{x:()=>0,y:()=>0,dx:-87,dy:-32,text:d=>d,textAnchor:"end",fontSize:23.5,fontWeight:"bold",fill:"#111"}),
    Plot.ruleY([26],{x1:0,x2:1.5,dy:19.4,stroke:"#000",strokeWidth:3}),
    Plot.axisX(forestTicks,{anchor:"bottom",tickSize:19,tickPadding:7,tickFormat:d3.format(".1f"),fontSize:28,strokeWidth:3,fill:"#111",label:null}),
    Plot.text(["Hazard ratio"],{x:()=>0.938,y:()=>26,dy:106,text:d=>d,fontSize:28,fill:"#111"})
  ]
}));

// Panel B network
const nodes=nodeNames.map((name,i)=>({name,x:nodeX[i],y:nodeY[i],fill:nodeKinds[i]==="m"?"#f5c1bc":"#c3d5ea"}));
const byName=new Map(nodes.map(n=>[n.name,n]));
const edges=edgeList.map(([a,b])=>({a:byName.get(a),b:byName.get(b)}));
const ellipse={draw(c,size){const ry=Math.sqrt(size/Math.PI),rx=2*ry,k=.5523;
  c.moveTo(rx,0);c.bezierCurveTo(rx,ry*k,rx*k,ry,0,ry);c.bezierCurveTo(-rx*k,ry,-rx,ry*k,-rx,0);
  c.bezierCurveTo(-rx,-ry*k,-rx*k,-ry,0,-ry);c.bezierCurveTo(rx*k,-ry,rx,-ry*k,rx,0);c.closePath();}};
fig.appendChild(Plot.plot({
  width:944,height:600,margin:0,style:place(1000,0),
  x:{domain:[0,944],range:[0,944],axis:null},
  y:{domain:[0,600],range:[0,600],axis:null},
  color:{type:"identity"},
  marks:[
    Plot.link(edges,{x1:d=>d.a.x,y1:d=>d.a.y,x2:d=>d.b.x,y2:d=>d.b.y,stroke:"#808080",strokeWidth:3.5}),
    Plot.dot(nodes,{x:"x",y:"y",r:30.6,symbol:ellipse,fill:"fill"}),
    Plot.text(nodes,{x:"x",y:"y",text:"name",fontSize:23,fill:"#111"})
  ]
}));

// Panel C alluvial
const strata=strataNames.map((name,i)=>({name,axis:strataAxis[i],y1:strataStart[i],y2:strataStart[i]+strataSize[i],fill:strataColors[i]}));
const flowRows=flowColors.flatMap((color,i)=>[
  {id:i,color,x:flowAxis[i]+.06,y1:flowFrom[i],y2:flowFrom[i]+flowSize[i]},
  {id:i,color,x:flowAxis[i]+1-.06,y1:flowTo[i],y2:flowTo[i]+flowSize[i]}]);
fig.appendChild(Plot.plot({
  width:1000,height:720,margin:0,style:place(0,720),
  x:{domain:[0,2],range:[117,936.5],axis:null},
  y:{domain:[0,9],range:[27.5,645.5],axis:null},
  color:{type:"identity"},
  marks:[
    Plot.areaY(flowRows,{x:"x",y1:"y1",y2:"y2",z:"id",fill:"color",fillOpacity:.5,curve:"bump-x"}),
    Plot.rect(strata,{x1:d=>d.axis-.049,x2:d=>d.axis+.049,y1:"y1",y2:"y2",fill:"fill",stroke:"#000",strokeWidth:5.5}),
    Plot.text(strata,{x:"axis",y:d=>(d.y1+d.y2)/2,text:"name",dx:3,fontSize:14.5,fill:"#000"}),
    Plot.text(axisNames,{x:(d,i)=>i*.995,y:()=>9,dy:42.5,text:d=>d,fontSize:26,fill:"#111"})
  ]
}));

// Panels D, E scatter
function scatter({L,R,T,B,xd,yd,xTicks,yTicks,xMinor,yMinor,xFmt,tickShift,pts,band,xName,yName,r}){
  const ml=115,mr=10,mt=15,mb=110;
  const blue="#4bacc6",txt="#4bb0cb";
  const line=[band[0],band[band.length-1]];
  const tickText={fontSize:25.5,fill:"#111",label:null};
  const stat=["Spearman",r,"P < 0.001"];
  const dys=[-95,-58,-22];
  const titleStyle={text:d=>d,fontSize:30.2,fill:"#111",lineAnchor:"middle",textAnchor:"middle"};
  fig.appendChild(Plot.plot({
    width:R-L+ml+mr,height:B-T+mt+mb,marginLeft:ml,marginRight:mr,marginTop:mt,marginBottom:mb,
    style:place(L-ml,T-mt),
    x:{domain:xd},y:{domain:yd},
    marks:[
      Plot.ruleX(xMinor,{stroke:"#eeeeee",strokeWidth:2}),
      Plot.ruleY(yMinor,{stroke:"#eeeeee",strokeWidth:2}),
      Plot.ruleX(xTicks,{stroke:"#ececec",strokeWidth:3.8}),
      Plot.ruleY(yTicks,{stroke:"#ececec",strokeWidth:3.8}),
      Plot.areaY(band,{x:d=>d[0],y1:d=>d[1],y2:d=>d[2],fill:blue,fillOpacity:.15}),
      Plot.dot(pts,{x:d=>d[0],y:d=>d[1],r:7.5,fill:blue,fillOpacity:.45}),
      Plot.line(line,{x:d=>d[0],y:d=>d[3],stroke:blue,strokeWidth:3.6}),
      Plot.frame({stroke:"#000",strokeWidth:3.5}),
      Plot.axisX(xTicks,{anchor:"bottom",tickSize:10,strokeWidth:3,fill:"none",label:null}),
      Plot.axisX(xTicks,{anchor:"bottom",tickSize:0,tickPadding:21,dx:tickShift,tickFormat:xFmt,...tickText}),
      Plot.axisY(yTicks,{anchor:"left",tickSize:10,tickPadding:11,strokeWidth:3,tickFormat:"d",...tickText}),
      ...stat.map((s,i)=>Plot.text([s],{frameAnchor:"bottom-right",dx:-15,dy:dys[i],text:d=>d,fontSize:25.5,fill:txt,lineAnchor:"middle",textAnchor:"end"})),
      Plot.text([xName],{frameAnchor:"bottom",dy:68,...titleStyle}),
      Plot.text(["Log\u2082 (TPM+1)"],{frameAnchor:"bottom",dy:98,...titleStyle}),
      Plot.text([yName],{frameAnchor:"left",dx:-101,rotate:-90,...titleStyle}),
      Plot.text(["Log\u2082 (TPM+1)"],{frameAnchor:"left",dx:-69,rotate:-90,...titleStyle})
    ]
  }));
}
scatter({L:1344,R:1818,T:823,B:1285,xd:[6.165,9.898],yd:[1.945,7],xTicks:[7,8,9],yTicks:[2,3,4,5,6,7],xMinor:[6.5,7.5,8.5,9.5],yMinor:[2.5,3.5,4.5,5.5,6.5],xFmt:"d",tickShift:3,pts:ePoints.concat(eCore),band:eBand,xName:"The expression of TRMT112",yName:"The expression of TMEM99",r:"r = 0.324"});
scatter({L:186.5,R:660,T:1584.5,B:2045.4,xd:[.665,5.138],yd:[-.156,5.456],xTicks:[1,2,3,4,5],yTicks:[0,1,2,3,4,5],xMinor:[1.5,2.5,3.5,4.5],yMinor:[.5,1.5,2.5,3.5,4.5],xFmt:"d",tickShift:3,pts:d1Points.concat(d1Core),band:d1Band,xName:"The expression of EIF4A1",yName:"The expression of CYP4F26P",r:"r = 0.414"});
scatter({L:804.5,R:1275.7,T:1586.4,B:2046,xd:[2.492,5.638],yd:[1.964,7],xTicks:[2.5,3,3.5,4,4.5,5,5.5],yTicks:[2,3,4,5,6,7],xMinor:[2.75,3.25,3.75,4.25,4.75,5.25],yMinor:[2.5,3.5,4.5,5.5,6.5],xFmt:".1f",tickShift:-1,pts:d2Points.concat(d2Core),band:d2Band,xName:"The expression of SNUPN",yName:"The expression of TMEM99",r:"r = 0.404"});
scatter({L:1428,R:1901,T:1589,B:2050,xd:[3.233,7.377],yd:[-.381,6],xTicks:[4,5,6,7],yTicks:[0,1,2,3,4,5,6],xMinor:[3.5,4.5,5.5,6.5],yMinor:[.5,1.5,2.5,3.5,4.5,5.5],xFmt:"d",tickShift:3,pts:d3Points.concat(d3Core,d3ZeroRow.map(x=>[x,0])),band:d3Band,xName:"The expression of NCBP1",yName:"The expression of PTCSC2",r:"r = 0.362"});
</script></body></html>
